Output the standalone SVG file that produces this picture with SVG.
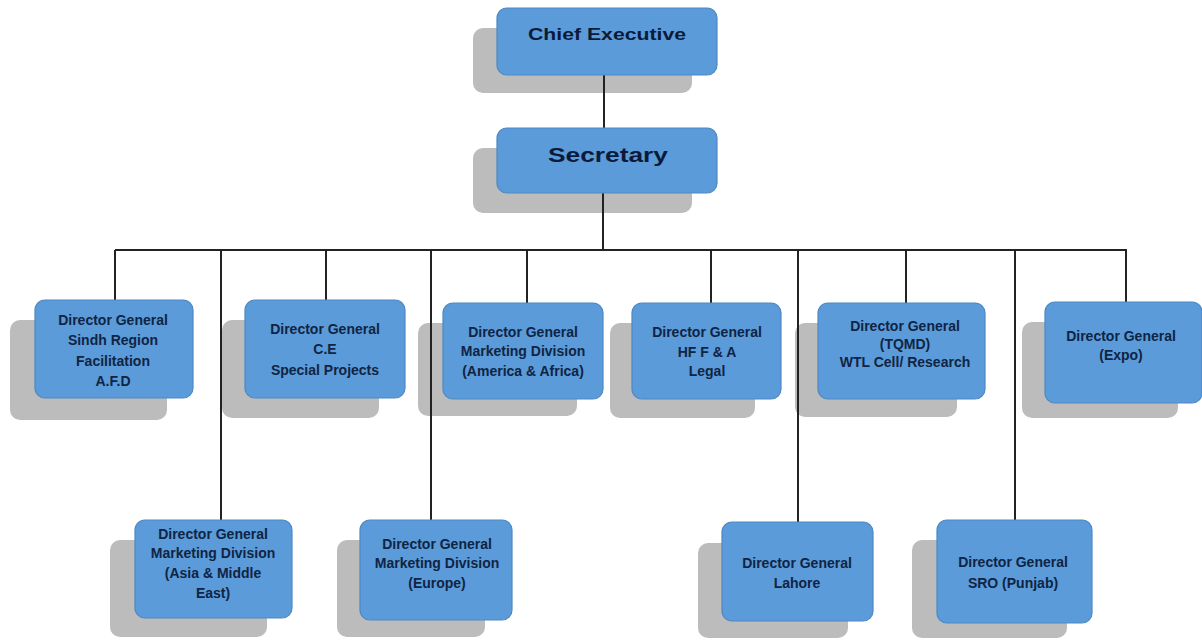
<svg xmlns="http://www.w3.org/2000/svg" width="1202" height="640" viewBox="0 0 1202 640">
<style>
.sh{fill:#bcbcbc}
.bx{fill:#5b9bd9;stroke:#4c89c4;stroke-width:1.2}
.t{font-family:"Liberation Sans",Arial,sans-serif;font-weight:bold;font-size:14px;fill:#102443;text-anchor:middle}
.tb{font-family:"Liberation Sans",Arial,sans-serif;font-weight:bold;fill:#0b1a38;text-anchor:middle}
.c{stroke:#222;stroke-width:2;fill:none}
</style>
<rect width="1202" height="640" fill="#fff"/>
<g id="shadows">
<rect class="sh" x="473" y="28" width="219" height="65" rx="10"/>
<rect class="sh" x="473" y="148" width="219" height="65" rx="10"/>
<rect class="sh" x="10" y="320" width="157" height="100" rx="10"/>
<rect class="sh" x="222" y="320" width="157" height="98" rx="10"/>
<rect class="sh" x="418" y="323" width="159" height="93" rx="10"/>
<rect class="sh" x="610" y="323" width="145" height="95" rx="10"/>
<rect class="sh" x="795" y="323" width="162" height="94" rx="10"/>
<rect class="sh" x="1022" y="322" width="156" height="96" rx="10"/>
<rect class="sh" x="110" y="540" width="157" height="97" rx="10"/>
<rect class="sh" x="337" y="540" width="148" height="97" rx="10"/>
<rect class="sh" x="698" y="543" width="150" height="95" rx="10"/>
<rect class="sh" x="912" y="540" width="155" height="98" rx="10"/>
</g>
<g id="connectors" class="c">
<line x1="604" y1="75" x2="604" y2="128"/>
<line x1="603" y1="193" x2="603" y2="250"/>
<line x1="115" y1="250" x2="1127" y2="250"/>
<line x1="115" y1="250" x2="115" y2="300"/>
<line x1="221" y1="250" x2="221" y2="520"/>
<line x1="326" y1="250" x2="326" y2="300"/>
<line x1="431" y1="250" x2="431" y2="520"/>
<line x1="527" y1="250" x2="527" y2="303"/>
<line x1="711" y1="250" x2="711" y2="303"/>
<line x1="798" y1="250" x2="798" y2="522"/>
<line x1="906" y1="250" x2="906" y2="303"/>
<line x1="1015" y1="250" x2="1015" y2="520"/>
<line x1="1126" y1="250" x2="1126" y2="302"/>
</g>
<g id="chief">
<rect class="bx" x="497" y="8" width="220" height="67" rx="10"/>
<text class="tb" x="607" y="40" font-size="17" textLength="158" lengthAdjust="spacingAndGlyphs">Chief Executive</text>
</g>
<g id="secretary">
<rect class="bx" x="497" y="128" width="220" height="65" rx="10"/>
<text class="tb" x="608" y="162" font-size="20" textLength="120" lengthAdjust="spacingAndGlyphs">Secretary</text>
</g>
<g id="dg-sindh">
<rect class="bx" x="35" y="300" width="158" height="98" rx="10"/>
<text class="t" x="113" y="325">Director General</text>
<text class="t" x="113" y="345">Sindh Region</text>
<text class="t" x="113" y="366">Facilitation</text>
<text class="t" x="113" y="386">A.F.D</text>
</g>
<g id="dg-ce">
<rect class="bx" x="245" y="300" width="160" height="98" rx="10"/>
<text class="t" x="325" y="334">Director General</text>
<text class="t" x="325" y="354">C.E</text>
<text class="t" x="325" y="375">Special Projects</text>
</g>
<g id="dg-america">
<rect class="bx" x="443" y="303" width="160" height="96" rx="10"/>
<text class="t" x="523" y="337">Director General</text>
<text class="t" x="523" y="356">Marketing Division</text>
<text class="t" x="523" y="376">(America &amp; Africa)</text>
</g>
<g id="dg-hf">
<rect class="bx" x="632" y="303" width="149" height="96" rx="10"/>
<text class="t" x="707" y="337">Director General</text>
<text class="t" x="707" y="357">HF F &amp; A</text>
<text class="t" x="707" y="376">Legal</text>
</g>
<g id="dg-tqmd">
<rect class="bx" x="818" y="303" width="167" height="96" rx="10"/>
<text class="t" x="905" y="331">Director General</text>
<text class="t" x="905" y="349">(TQMD)</text>
<text class="t" x="905" y="367">WTL Cell/ Research</text>
</g>
<g id="dg-expo">
<rect class="bx" x="1045" y="302" width="157" height="101" rx="10"/>
<text class="t" x="1121" y="341">Director General</text>
<text class="t" x="1121" y="360">(Expo)</text>
</g>
<g id="dg-asia">
<rect class="bx" x="135" y="520" width="157" height="98" rx="10"/>
<text class="t" x="213" y="539">Director General</text>
<text class="t" x="213" y="558">Marketing Division</text>
<text class="t" x="213" y="578">(Asia &amp; Middle</text>
<text class="t" x="213" y="598">East)</text>
</g>
<g id="dg-europe">
<rect class="bx" x="360" y="520" width="152" height="100" rx="10"/>
<text class="t" x="437" y="549">Director General</text>
<text class="t" x="437" y="568">Marketing Division</text>
<text class="t" x="437" y="588">(Europe)</text>
</g>
<g id="dg-lahore">
<rect class="bx" x="722" y="522" width="151" height="99" rx="10"/>
<text class="t" x="797" y="568">Director General</text>
<text class="t" x="797" y="588">Lahore</text>
</g>
<g id="dg-sro">
<rect class="bx" x="937" y="520" width="155" height="103" rx="10"/>
<text class="t" x="1013" y="567">Director General</text>
<text class="t" x="1013" y="588">SRO (Punjab)</text>
</g>
</svg>
